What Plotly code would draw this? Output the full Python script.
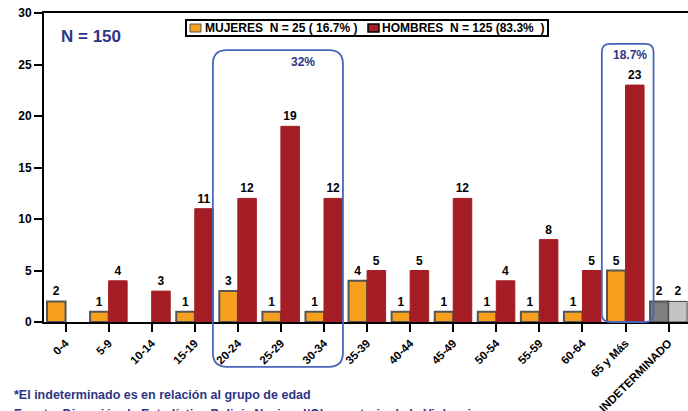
import plotly.graph_objects as go

categories = ["0-4", "5-9", "10-14", "15-19", "20-24", "25-29", "30-34", "35-39",
              "40-44", "45-49", "50-54", "55-59", "60-64", "65 y Más", "INDETERMINADO"]
mujeres = [2, 1, None, 1, 3, 1, 1, 4, 1, 1, 1, 1, 1, 5, 2]
hombres = [None, 4, 3, 11, 12, 19, 12, 5, 5, 12, 4, 8, 5, 23, 2]
y_ticks = [0, 5, 10, 15, 20, 25, 30]
legend_labels = ["MUJERES\u00a0\u00a0N = 25 ( 16.7% )", "HOMBRES\u00a0\u00a0N = 125 (83.3%\u00a0\u00a0)"]

ORANGE = "#F7A01E"
RED = "#A51D24"
NAVY = "#2E3586"
BOXBLUE = "#4A66B8"
FONT = "Liberation Sans, Arial, sans-serif"

W, H = 688, 411
ML, MR, MT, MB = 44, 0, 13, 89
PW, PH = W - ML - MR, H - MT - MB
XMIN, XMAX = -0.5, 14.45
YMIN, YMAX = 0, 30

def xpap(x):
    return (x - XMIN) / (XMAX - XMIN)

def ypap(y):
    return (y - YMIN) / (YMAX - YMIN)

def px_x(p):
    return (p - ML) / PW

def px_y(p):
    return (H - MB - p) / PH

x_idx = list(range(len(categories)))
col_m = [ORANGE] * (len(categories) - 1) + ["#7F7F7F"]
col_h = [RED] * (len(categories) - 1) + ["#C3C3C3"]
line_h = [RED] * (len(categories) - 1) + ["#444444"]
lab_font = dict(family=FONT, size=12, color="black", weight="bold")

fig = go.Figure()
fig.add_trace(go.Bar(
    x=x_idx, y=mujeres, name=legend_labels[0], showlegend=False,
    marker=dict(color=col_m, line=dict(color="#555555", width=2)),
    text=[str(v) if v is not None else "" for v in mujeres], textposition="outside",
    textfont=lab_font, cliponaxis=False,
))
fig.add_trace(go.Bar(
    x=x_idx, y=hombres, name=legend_labels[1], showlegend=False,
    marker=dict(color=col_h, line=dict(color=line_h, width=1)),
    text=[str(v) if v is not None else "" for v in hombres], textposition="outside",
    textfont=lab_font, cliponaxis=False,
))

def rounded_box(x0, x1, y0, y1, rx, ry):
    X0, X1 = xpap(x0), xpap(x1)
    Y0, Y1 = ypap(y0), ypap(y1)
    rxp = rx / PW
    ryp = ry / PH
    return (f"M {X0+rxp} {Y1} L {X1-rxp} {Y1} Q {X1} {Y1} {X1} {Y1-ryp} "
            f"L {X1} {Y0+ryp} Q {X1} {Y0} {X1-rxp} {Y0} "
            f"L {X0+rxp} {Y0} Q {X0} {Y0} {X0} {Y0+ryp} "
            f"L {X0} {Y1-ryp} Q {X0} {Y1} {X0+rxp} {Y1} Z")

shapes = [
    dict(type="path", xref="paper", yref="paper",
         path=rounded_box(3.42, 6.44, -4.35, 26.4, 14, 14),
         line=dict(color=BOXBLUE, width=1.8)),
    dict(type="path", xref="paper", yref="paper",
         path=rounded_box(12.45, 13.65, 0, 27.0, 8, 8),
         line=dict(color=BOXBLUE, width=1.8)),
    # manual legend box
    dict(type="rect", xref="paper", yref="paper",
         x0=px_x(186), x1=px_x(548), y0=px_y(36), y1=px_y(20),
         line=dict(color="black", width=2), fillcolor="white", layer="above"),
    dict(type="rect", xref="paper", yref="paper",
         x0=px_x(190), x1=px_x(201), y0=px_y(32), y1=px_y(24),
         line=dict(color="#555555", width=1), fillcolor=ORANGE, layer="above"),
    dict(type="rect", xref="paper", yref="paper",
         x0=px_x(368), x1=px_x(379), y0=px_y(32), y1=px_y(24),
         line=dict(color="black", width=1.5), fillcolor=RED, layer="above"),
]

annotations = [
    dict(text=legend_labels[0], x=px_x(203), y=px_y(28), xref="paper", yref="paper",
         xanchor="left", yanchor="middle", showarrow=False,
         font=dict(family=FONT, size=12, color="black", weight="bold")),
    dict(text=legend_labels[1], x=px_x(380), y=px_y(28), xref="paper", yref="paper",
         xanchor="left", yanchor="middle", showarrow=False,
         font=dict(family=FONT, size=12, color="black", weight="bold")),
    dict(text="N = 150", x=px_x(59), y=px_y(36), xref="paper", yref="paper",
         xanchor="left", yanchor="middle", showarrow=False,
         font=dict(family=FONT, size=17, color=NAVY, weight="bold")),
    dict(text="32%", x=px_x(303), y=px_y(62), xref="paper", yref="paper",
         xanchor="center", yanchor="middle", showarrow=False,
         font=dict(family=FONT, size=12, color=NAVY, weight="bold")),
    dict(text="18.7%", x=px_x(630), y=px_y(55), xref="paper", yref="paper",
         xanchor="center", yanchor="middle", showarrow=False,
         font=dict(family=FONT, size=12, color=NAVY, weight="bold")),
    dict(text="*El indeterminado es en relación al grupo de edad",
         x=px_x(12), y=px_y(395), xref="paper", yref="paper",
         xanchor="left", yanchor="middle", showarrow=False,
         font=dict(family=FONT, size=12.5, color=NAVY, weight="bold")),
    dict(text="Fuente: Dirección de Estadística Policía Nacional/Observatorio de la Violencia",
         x=px_x(12), y=px_y(414), xref="paper", yref="paper",
         xanchor="left", yanchor="middle", showarrow=False,
         font=dict(family=FONT, size=12.5, color=NAVY, weight="bold")),
]

fig.update_layout(
    width=W, height=H,
    margin=dict(l=ML, r=MR, t=MT, b=MB, autoexpand=False),
    paper_bgcolor="white", plot_bgcolor="white",
    barmode="group", bargap=0.14, bargroupgap=0.0,
    font=dict(family=FONT, color="black"),
    showlegend=False,
    shapes=shapes, annotations=annotations,
    xaxis=dict(range=[XMIN, XMAX], tickmode="array", tickvals=x_idx, ticktext=categories,
               tickangle=-45, ticks="outside", ticklen=8, tickwidth=2, tickcolor="black",
               showline=True, linecolor="black", linewidth=2, mirror=True,
               showgrid=False, zeroline=False, automargin=False,
               tickfont=dict(family=FONT, size=11.5, color="black", weight="bold")),
    yaxis=dict(range=[YMIN, YMAX], tickmode="array", tickvals=y_ticks,
               ticks="outside", ticklen=8, tickwidth=2, tickcolor="black",
               showline=True, linecolor="black", linewidth=2,
               showgrid=False, zeroline=False, automargin=False,
               tickfont=dict(family=FONT, size=12, color="black", weight="bold")),
)

fig.write_html("out.html", config={"displayModeBar": False},
               post_script="document.body.style.margin='0';document.body.style.overflow='hidden';")
